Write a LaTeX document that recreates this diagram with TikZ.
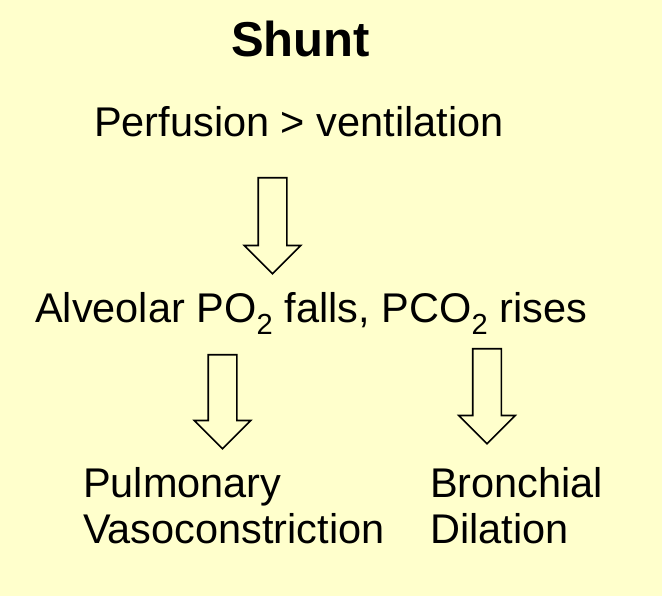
\documentclass[tikz,border=0pt]{standalone}
\usepackage{fontspec}
\setmainfont{Liberation Sans}
\usepackage{xcolor}
\usepackage{tikz}
\usetikzlibrary{shapes.arrows}
\definecolor{shuntbg}{RGB}{255, 255, 204}
\definecolor{shuntink}{RGB}{0, 0, 0}

\tikzset{
    blockarrow/.style={single arrow, draw=shuntink, fill=shuntbg, line width=1.6pt,
          inner xsep=0pt, inner ysep=13.5pt, single arrow head extend=14pt,
          single arrow tip angle=90, minimum height=#1, rotate=-90, anchor=tail},
    bodytext/.style={anchor=base west, inner sep=0pt, align=left, text=shuntink,
          font=\fontsize{41.5}{45.5}\selectfont}
}

\begin{document}
\begin{tikzpicture}[x=1pt, y=-1pt]
    \fill[shuntbg] (0,0) rectangle (662,596);
    \useasboundingbox (0,0) rectangle (662,596);

    \node[anchor=base, inner sep=0pt, font=\fontsize{49}{52}\selectfont\bfseries] (title) at (300.5,57) {Shunt};
    \node[bodytext] (perfusion) at (94,137) {Perfusion > ventilation};
    \node[bodytext] (alveolar) at (35,323) {Alveolar PO\textsubscript{2} falls, PCO\textsubscript{2} rises};
    \node[bodytext] (pulmonary) at (83,543) {Pulmonary\\Vasoconstriction};
    \node[bodytext] (bronchial) at (430,543) {Bronchial\\Dilation};

    % hollow block arrows between the steps
    \node[blockarrow=96pt] (arrowperf) at (272.5,177) {};
    \node[blockarrow=94pt] (arrowpul) at (222.5,354) {};
    \node[blockarrow=95pt] (arrowbro) at (487,348) {};
\end{tikzpicture}
\end{document}
